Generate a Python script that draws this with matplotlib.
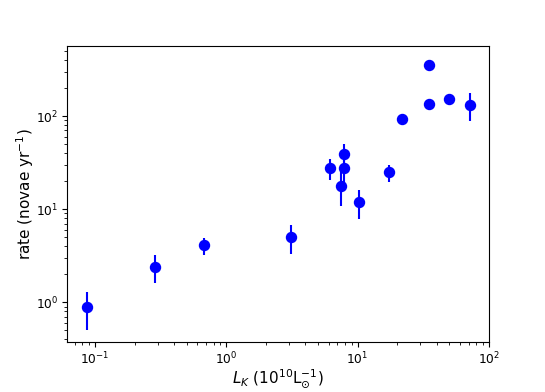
import matplotlib
matplotlib.use("Agg")
import matplotlib.pyplot as plt
import numpy as np

# Data
lum_k = [0.087, 0.288, 0.672, 3.09, 6.15, 7.85, 7.85, 7.41, 10.3, 17.4, 21.7, 35.2, 35.2, 50.0, 72.3]
rate = [0.9, 2.4, 4.1, 5.0, 27.6, 39.5, 27.6, 17.8, 11.9, 24.8, 93.0, 352.0, 133.0, 153.0, 132.0]
rate_err = [0.4, 0.8, 0.85, 1.7, 7.0, 10.0, 8.5, 7.0, 4.0, 5.0, 12.0, 50.0, 15.0, 15.0, 44.0]

fig = plt.figure(figsize=(5.45, 3.92), dpi=100)
ax = fig.add_axes([0.1235, 0.1268, 0.897 - 0.1235, 0.8834 - 0.1268])

ax.errorbar(lum_k, rate, yerr=rate_err, fmt='o', color='blue', ms=7.2,
            elinewidth=1.5, capsize=0)
ax.set_xscale('log')
ax.set_yscale('log')
ax.set_xlim(10 ** -1.212, 10 ** 2.0)
ax.set_ylim(10 ** -0.429, 10 ** 2.755)

ax.set_xlabel(r'$L_K$ ($10^{10}$L$_{\odot}^{-1}$)', fontsize=11, labelpad=0)
ax.set_ylabel(r'rate (novae yr$^{-1}$)', fontsize=11, labelpad=0)
ax.tick_params(labelsize=8.8, pad=2.8)

fig.savefig('out.png', dpi=100)
